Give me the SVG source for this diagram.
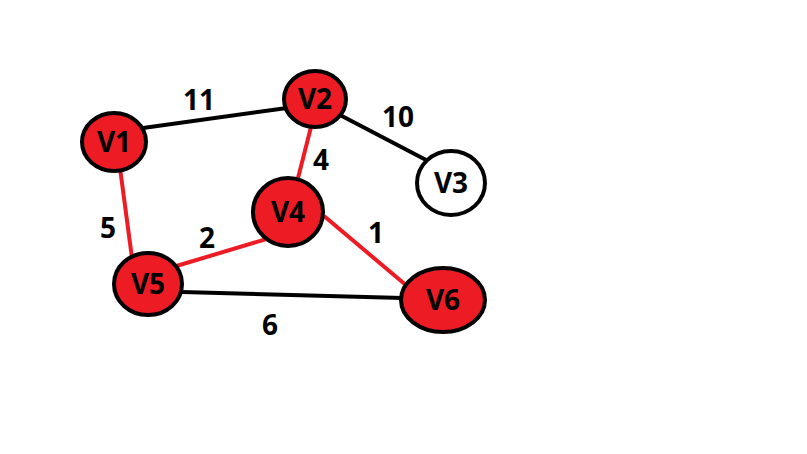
<svg xmlns="http://www.w3.org/2000/svg" width="807" height="454" viewBox="0 0 807 454">
<style>
.n{stroke:#000;stroke-width:4}
.r{fill:#ED1C24}
.w{fill:#fff}
.t{font-family:"Open Sans","DejaVu Sans",sans-serif;font-weight:bold;font-size:28px;fill:#000;text-anchor:middle;dominant-baseline:central}
.eb{stroke:#000;stroke-width:4;fill:none}
.er{stroke:#ED1C24;stroke-width:4;fill:none}
</style>
<rect width="807" height="454" fill="#fff"/>
<g id="connectors">
<line class="eb" x1="143" y1="128" x2="287" y2="108"/>
<line class="eb" x1="340" y1="115" x2="428" y2="161"/>
<line class="er" x1="311" y1="127" x2="297" y2="182"/>
<line class="er" x1="120" y1="168" x2="132" y2="258"/>
<line class="er" x1="173" y1="267" x2="270" y2="238"/>
<line class="er" x1="324" y1="216" x2="407" y2="286"/>
<line class="eb" x1="182" y1="292" x2="403" y2="298"/>
<text class="t" x="199" y="99">11</text>
<text class="t" x="398" y="116">10</text>
<text class="t" x="321" y="159">4</text>
<text class="t" x="108" y="227">5</text>
<text class="t" x="207" y="237">2</text>
<text class="t" x="376" y="232">1</text>
<text class="t" x="270" y="324">6</text>
</g>
<g id="V1"><ellipse class="n r" cx="114" cy="142" rx="32" ry="29"/><text class="t" x="114" y="141">V1</text></g>
<g id="V2"><ellipse class="n r" cx="315" cy="99" rx="31" ry="28"/><text class="t" x="315" y="98">V2</text></g>
<g id="V3"><ellipse class="n w" cx="451" cy="183" rx="34" ry="32"/><text class="t" x="451" y="182">V3</text></g>
<g id="V4"><ellipse class="n r" cx="288" cy="212" rx="35" ry="34"/><text class="t" x="288" y="211">V4</text></g>
<g id="V5"><ellipse class="n r" cx="148" cy="284" rx="34" ry="31"/><text class="t" x="148" y="283">V5</text></g>
<g id="V6"><ellipse class="n r" cx="443" cy="300" rx="42" ry="32"/><text class="t" x="443" y="299">V6</text></g>
</svg>
